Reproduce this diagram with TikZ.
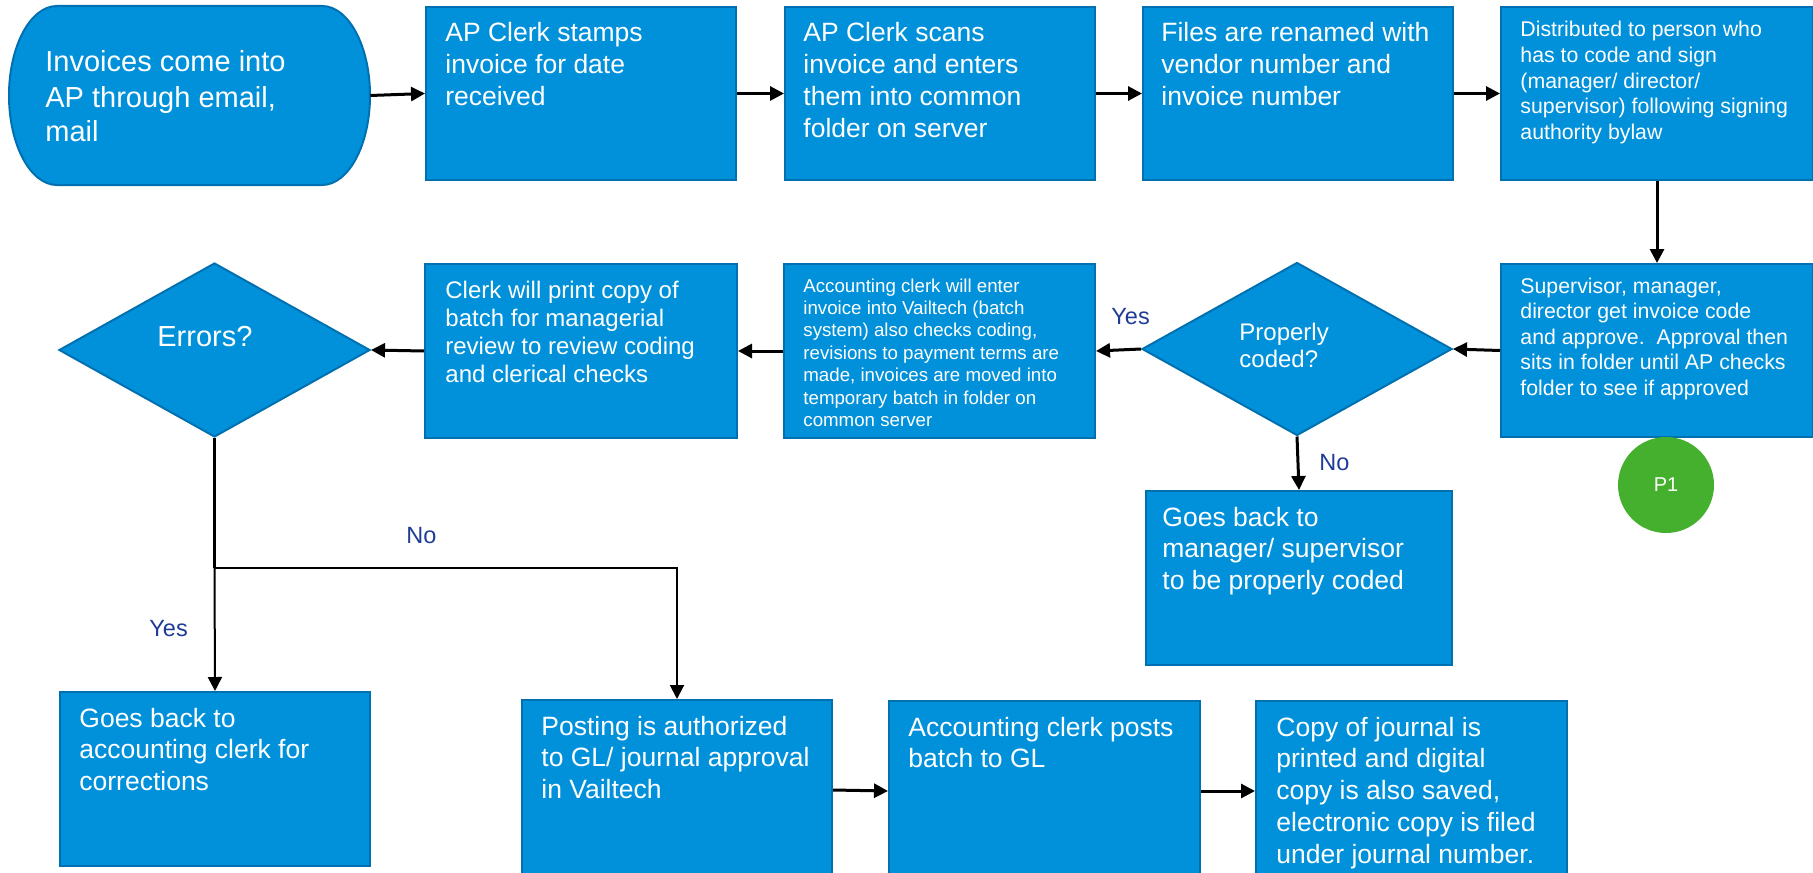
\documentclass[tikz,border=0pt]{standalone}
\usepackage{fontspec}
\setmainfont{Liberation Sans}
\usetikzlibrary{shapes.geometric,arrows.meta}

\definecolor{flowblue}{RGB}{0,145,218}
\definecolor{flowedge}{RGB}{0,112,176}
\definecolor{flowgreen}{RGB}{69,176,46}
\definecolor{labelblue}{RGB}{31,60,150}

% top-aligned block of explicitly broken lines
\newcommand\txtlines[1]{\parbox[t]{300pt}{\raggedright #1}}

\begin{document}
\begin{tikzpicture}[x=0.5pt,y=-0.5pt,
  proc/.style={draw=flowedge, fill=flowblue, line width=1pt, rectangle,
    anchor=north west, inner sep=0pt},
  decision/.style={draw=flowedge, fill=flowblue, line width=1pt, diamond,
    inner sep=0pt},
  txt/.style={text=white, anchor=base west, inner sep=0pt},
  lbl/.style={text=labelblue, anchor=base west, inner sep=0pt,
    font=\fontsize{11.75pt}{14pt}\selectfont},
  fbig/.style={font=\fontsize{14.5pt}{17.5pt}\selectfont},
  fmain/.style={font=\fontsize{13.25pt}{15.9pt}\selectfont},
  fmid/.style={font=\fontsize{12pt}{14.15pt}\selectfont},
  fsmall/.style={font=\fontsize{10.65pt}{12.8pt}\selectfont},
  ftiny/.style={font=\fontsize{9.35pt}{11.2pt}\selectfont},
  arr/.style={draw=black, line width=1.5pt, -{Triangle[length=7pt,width=7pt]}},
  thinarr/.style={draw=black, line width=1pt, -{Triangle[length=7pt,width=7pt]}}
]
\useasboundingbox (0,0) rectangle (1813,872);

% start terminal with elliptical ends
\path[draw=flowedge, fill=flowblue, line width=1pt]
  (57,6) -- (322,6) arc[start angle=90, end angle=-90, x radius=24pt, y radius=44.75pt]
  -- (57,185) arc[start angle=270, end angle=90, x radius=24pt, y radius=44.75pt] -- cycle;
\node[minimum width=180.5pt, minimum height=89.5pt, inner sep=0pt] (term) at (189.5,95.5) {};
\node[txt, fbig] (tterm) at (45,72) {\txtlines{Invoices come into\\AP through email,\\mail}};

% top row
\node[proc, minimum width=155pt, minimum height=86.5pt] (b2) at (425,6) {};
\node[txt, fmain] (t2) at (445,42) {\txtlines{AP Clerk stamps\\invoice for date\\received}};

\node[proc, minimum width=155pt, minimum height=86.5pt] (b3) at (784,6) {};
\node[txt, fmain] (t3) at (803,42) {\txtlines{AP Clerk scans\\invoice and enters\\them into common\\folder on server}};

\node[proc, minimum width=155pt, minimum height=86.5pt] (b4) at (1142,6) {};
\node[txt, fmain] (t4) at (1161,42) {\txtlines{Files are renamed with\\vendor number and\\invoice number}};

\node[proc, minimum width=156pt, minimum height=86.5pt] (b5) at (1500,6) {};
\node[txt, fsmall] (t5) at (1520,37) {\txtlines{Distributed to person who\\has to code and sign\\(manager/ director/\\supervisor) following signing\\authority bylaw}};

% middle row
\node[proc, minimum width=156pt, minimum height=86.5pt] (b6) at (1500,263) {};
\node[txt, fsmall] (t6) at (1520,293) {\txtlines{Supervisor, manager,\\director get invoice code\\and approve.\ \ Approval then\\sits in folder until AP checks\\folder to see if approved}};

\node[decision, minimum width=155pt, minimum height=86.5pt] (dia1) at (1297,349) {};
\node[txt, fmid, font=\fontsize{12pt}{13.85pt}\selectfont] (tdia1) at (1239,340) {\txtlines{Properly\\coded?}};

\node[proc, minimum width=155.5pt, minimum height=87pt] (b7) at (783,263) {};
\node[txt, ftiny] (t7) at (803,292) {\txtlines{Accounting clerk will enter\\invoice into Vailtech (batch\\system) also checks coding,\\revisions to payment terms are\\made, invoices are moved into\\temporary batch in folder on\\common server}};

\node[proc, minimum width=156pt, minimum height=87pt] (b8) at (424,263) {};
\node[txt, fmid] (t8) at (445,298) {\txtlines{Clerk will print copy of\\batch for managerial\\review to review coding\\and clerical checks}};

\node[decision, minimum width=155.5pt, minimum height=87pt] (err) at (214.5,350) {};
\node[txt, fbig] (terr) at (157,346) {Errors?};

\node[proc, minimum width=153pt, minimum height=87pt] (b9) at (1145,490) {};
\node[txt, fmain] (t9) at (1162,526) {\txtlines{Goes back to\\manager/ supervisor\\to be properly coded}};

\node[circle, fill=flowgreen, minimum size=48pt, inner sep=0pt, text=white,
  font=\fontsize{10pt}{12pt}\selectfont] (p1) at (1666,485) {P1};

% bottom row
\node[proc, minimum width=155pt, minimum height=87pt] (b10) at (59,691) {};
\node[txt, fmain] (t10) at (79,727) {\txtlines{Goes back to\\accounting clerk for\\corrections}};

\node[proc, minimum width=155pt, minimum height=90pt] (b11) at (521,699) {};
\node[txt, fmain] (t11) at (541,735) {\txtlines{Posting is authorized\\to GL/ journal approval\\in Vailtech}};

\node[proc, minimum width=155.5pt, minimum height=90pt] (b12) at (888,700) {};
\node[txt, fmain] (t12) at (908,736) {\txtlines{Accounting clerk posts\\batch to GL}};

\node[proc, minimum width=155.5pt, minimum height=90pt] (b13) at (1255,700) {};
\node[txt, fmain] (t13) at (1276,736) {\txtlines{Copy of journal is\\printed and digital\\copy is also saved,\\electronic copy is filed\\under journal number.}};

% connectors
\draw[arr] (term.east) -- (b2.west);
\draw[arr] (b2.east) -- (b3.west);
\draw[arr] (b3.east) -- (b4.west);
\draw[arr] (b4.east) -- (b5.west);
\draw[arr] (b5.south) -- (b6.north);
\draw[arr] (b6.west) -- (dia1.east);
\draw[arr] (dia1.west) -- (b7.east);
\draw[arr] (b7.west) -- (b8.east);
\draw[arr] (b8.west) -- (err.east);
\draw[arr] (dia1.south) -- (b9.north);

\coordinate (split) at (214.5,568);
\draw[line width=1.5pt] (err.south) -- (split);
\draw[thinarr] (split) -- (b10.north);
\draw[thinarr] (split) -- (split -| b11.north) -- (b11.north);

\draw[arr] (b11.east) -- (b12.west);
\draw[arr] (b12.east) -- (b13.west);

% branch labels
\node[lbl] (lyes1) at (1111,324) {Yes};
\node[lbl] (lno1) at (1319,470) {No};
\node[lbl] (lno2) at (406,543) {No};
\node[lbl] (lyes2) at (149,636) {Yes};
\end{tikzpicture}
\end{document}
